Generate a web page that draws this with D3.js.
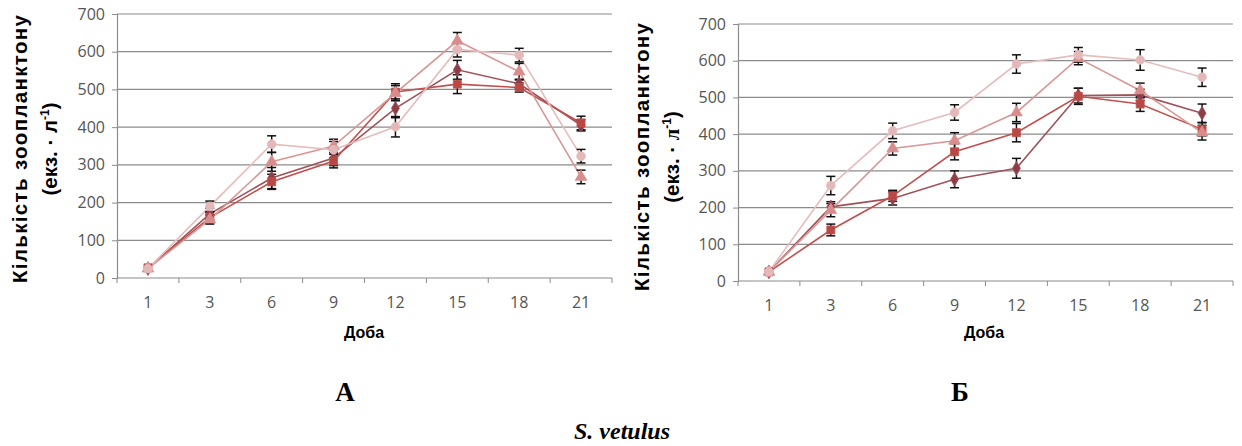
<!DOCTYPE html>
<html>
<head>
<meta charset="utf-8">
<script src="https://cdn.jsdelivr.net/npm/d3@7"></script>
<style>
  html, body { margin: 0; padding: 0; background: #fff; }
  svg { display: block; }
  .tick-label { font-family: "Open Sans", "Liberation Sans", sans-serif; font-size: 16px; fill: #555; }
  .axis-title { font-family: "Liberation Sans", Arial, sans-serif; font-weight: bold; fill: #000; }
  .panel-label { font-family: "Liberation Serif", "Times New Roman", serif; font-weight: bold; fill: #000; }
</style>
</head>
<body>
<svg id="chart" width="1242" height="446"></svg>
<script>
(function () {
  'use strict';

  const DAYS = ['1', '3', '6', '9', '12', '15', '18', '21'];
  const Y_TICKS = [0, 100, 200, 300, 400, 500, 600, 700];

  // panel A
  const A_DIAMOND = [25, 170, 265, 318, 450, 552, 515, 405];
  const A_SQUARE = [27, 160, 255, 310, 493, 514, 505, 411];
  const A_TRIANGLE = [25, 155, 308, 350, 490, 629, 547, 268];
  const A_CIRCLE = [25, 190, 355, 340, 401, 606, 591, 323];
  const A_DIAMOND_ERR = [2, 15, 28, 20, 25, 25, 12, 15];
  const A_SQUARE_ERR = [2, 14, 20, 18, 22, 25, 12, 18];
  const A_TRIANGLE_ERR = [2, 12, 25, 18, 20, 22, 22, 18];
  const A_CIRCLE_ERR = [2, 14, 22, 22, 27, 20, 18, 18];

  // panel Б
  const B_DIAMOND = [25, 202, 225, 277, 307, 505, 507, 457];
  const B_SQUARE = [25, 139, 232, 352, 404, 503, 482, 413];
  const B_TRIANGLE = [25, 193, 361, 382, 459, 607, 519, 404];
  const B_CIRCLE = [25, 260, 409, 459, 591, 616, 602, 555];
  const B_DIAMOND_ERR = [2, 14, 18, 23, 27, 20, 15, 25];
  const B_SQUARE_ERR = [2, 16, 15, 22, 25, 22, 20, 18];
  const B_TRIANGLE_ERR = [2, 18, 18, 22, 25, 18, 20, 20];
  const B_CIRCLE_ERR = [2, 25, 21, 21, 25, 20, 28, 25];

  const SERIES_STYLE = [
    { symbol: d3.symbolDiamond, size: 55, line: '#a0525a', fill: '#8e3d47' },
    { symbol: d3.symbolSquare, size: 64, line: '#c0504d', fill: '#b84843' },
    { symbol: d3.symbolTriangle, size: 60, line: '#d99694', fill: '#d98c8c' },
    { symbol: d3.symbolCircle, size: 60, line: '#e6bcbc', fill: '#e4b8b8' }
  ];

  const svg = d3.select('#chart');

  function drawPanel(cfg) {
    const g = svg.append('g');
    const x = d3.scaleBand().domain(DAYS).range([cfg.x0, cfg.x1]).padding(0);
    const y = d3.scaleLinear().domain([0, 700]).range([cfg.yBottom, cfg.yTop]);
    const cx = d => x(d) + x.bandwidth() / 2;

    // gridlines
    g.append('g').selectAll('line')
      .data(Y_TICKS.filter(t => t > 0))
      .join('line')
      .attr('x1', cfg.x0).attr('x2', cfg.x1)
      .attr('y1', d => y(d)).attr('y2', d => y(d))
      .attr('stroke', '#8c8c8c').attr('stroke-width', 1.2);

    // y axis
    const yAxis = d3.axisLeft(y).tickValues(Y_TICKS).tickSize(5).tickPadding(7);
    const ya = g.append('g').attr('transform', `translate(${cfg.x0},0)`).call(yAxis);
    ya.select('.domain').attr('stroke', '#8c8c8c').attr('stroke-width', 1.2);
    ya.selectAll('.tick line').attr('stroke', '#8c8c8c');
    ya.selectAll('.tick text').attr('class', 'tick-label');
    ya.attr('font-family', null).attr('font-size', null);

    // x axis: ticks between categories like Excel
    const xa = g.append('g');
    xa.append('line')
      .attr('x1', cfg.x0).attr('x2', cfg.x1)
      .attr('y1', cfg.yBottom).attr('y2', cfg.yBottom)
      .attr('stroke', '#8c8c8c').attr('stroke-width', 1.2);
    const bounds = DAYS.map(d => x(d)).concat([cfg.x1]);
    xa.selectAll('line.xt').data(bounds).join('line')
      .attr('class', 'xt')
      .attr('x1', d => d).attr('x2', d => d)
      .attr('y1', cfg.yBottom).attr('y2', cfg.yBottom + 5)
      .attr('stroke', '#8c8c8c');
    xa.selectAll('text').data(DAYS).join('text')
      .attr('class', 'tick-label')
      .attr('x', d => cx(d))
      .attr('y', cfg.yBottom + 30)
      .attr('text-anchor', 'middle')
      .text(d => d);

    // titles
    g.append('text').attr('class', 'axis-title')
      .attr('font-size', 16)
      .attr('x', cfg.xTitleX).attr('y', cfg.xTitleY)
      .attr('text-anchor', 'middle')
      .text('Доба');

    g.append('text').attr('class', 'axis-title')
      .attr('font-size', 20.5)
      .attr('text-anchor', 'middle')
      .attr('textLength', 268).attr('lengthAdjust', 'spacing')
      .attr('transform', `translate(${cfg.yTitle1X},${cfg.yTitleY}) rotate(-90)`)
      .text('Кількість зоопланктону');
    const t2 = g.append('text').attr('class', 'axis-title')
      .attr('font-size', 20.5)
      .attr('text-anchor', 'middle')
      .attr('transform', `translate(${cfg.yTitle2X},${cfg.yTitleY}) rotate(-90)`);
    t2.append('tspan').text('(екз. · ');
    t2.append('tspan').attr('font-family', cfg.serifL ? '"Liberation Serif", serif' : null).text('л');
    t2.append('tspan').attr('dy', -8).attr('font-size', 12).text('-1');
    t2.append('tspan').attr('dy', 8).text(')');

    const line = d3.line().x((d, i) => cx(DAYS[i])).y(d => y(d));

    // lines
    cfg.series.forEach((s, k) => {
      g.append('path')
        .datum(s.values)
        .attr('fill', 'none')
        .attr('stroke', SERIES_STYLE[k].line)
        .attr('stroke-width', 1.6)
        .attr('d', line);
    });

    // error bars
    cfg.series.forEach(s => {
      const eg = g.append('g').attr('stroke', '#111').attr('stroke-width', 1.5);
      s.values.forEach((v, i) => {
        const e = s.err[i];
        if (e < 5) return;
        const px = cx(DAYS[i]);
        eg.append('line').attr('x1', px).attr('x2', px).attr('y1', y(v - e)).attr('y2', y(v + e));
        eg.append('line').attr('x1', px - 4.5).attr('x2', px + 4.5).attr('y1', y(v + e)).attr('y2', y(v + e));
        eg.append('line').attr('x1', px - 4.5).attr('x2', px + 4.5).attr('y1', y(v - e)).attr('y2', y(v - e));
      });
    });

    // markers
    cfg.series.forEach((s, k) => {
      const st = SERIES_STYLE[k];
      g.append('g').selectAll('path')
        .data(s.values)
        .join('path')
        .attr('transform', (d, i) => `translate(${cx(DAYS[i])},${y(d)})`)
        .attr('d', d3.symbol().type(st.symbol).size(st.size))
        .attr('fill', st.fill)
        .attr('stroke', st.line)
        .attr('stroke-width', 0.8);
    });
  }

  drawPanel({
    x0: 117, x1: 612, yTop: 14, yBottom: 278,
    xTitleX: 364, xTitleY: 338,
    yTitle1X: 27, yTitle2X: 57, yTitleY: 149,
    serifL: false,
    series: [
      { values: A_DIAMOND, err: A_DIAMOND_ERR },
      { values: A_SQUARE, err: A_SQUARE_ERR },
      { values: A_TRIANGLE, err: A_TRIANGLE_ERR },
      { values: A_CIRCLE, err: A_CIRCLE_ERR }
    ]
  });

  drawPanel({
    x0: 738, x1: 1233, yTop: 24, yBottom: 281,
    xTitleX: 984, xTitleY: 338,
    yTitle1X: 649, yTitle2X: 679, yTitleY: 157,
    serifL: true,
    series: [
      { values: B_DIAMOND, err: B_DIAMOND_ERR },
      { values: B_SQUARE, err: B_SQUARE_ERR },
      { values: B_TRIANGLE, err: B_TRIANGLE_ERR },
      { values: B_CIRCLE, err: B_CIRCLE_ERR }
    ]
  });

  svg.append('text').attr('class', 'panel-label')
    .attr('font-size', 27).attr('x', 345).attr('y', 401)
    .attr('text-anchor', 'middle').text('А');
  svg.append('text').attr('class', 'panel-label')
    .attr('font-size', 27).attr('x', 960).attr('y', 401)
    .attr('text-anchor', 'middle').text('Б');
  svg.append('text').attr('class', 'panel-label')
    .attr('font-size', 24).attr('font-style', 'italic')
    .attr('x', 622).attr('y', 439)
    .attr('text-anchor', 'middle').text('S. vetulus');
})();
</script>
</body>
</html>
